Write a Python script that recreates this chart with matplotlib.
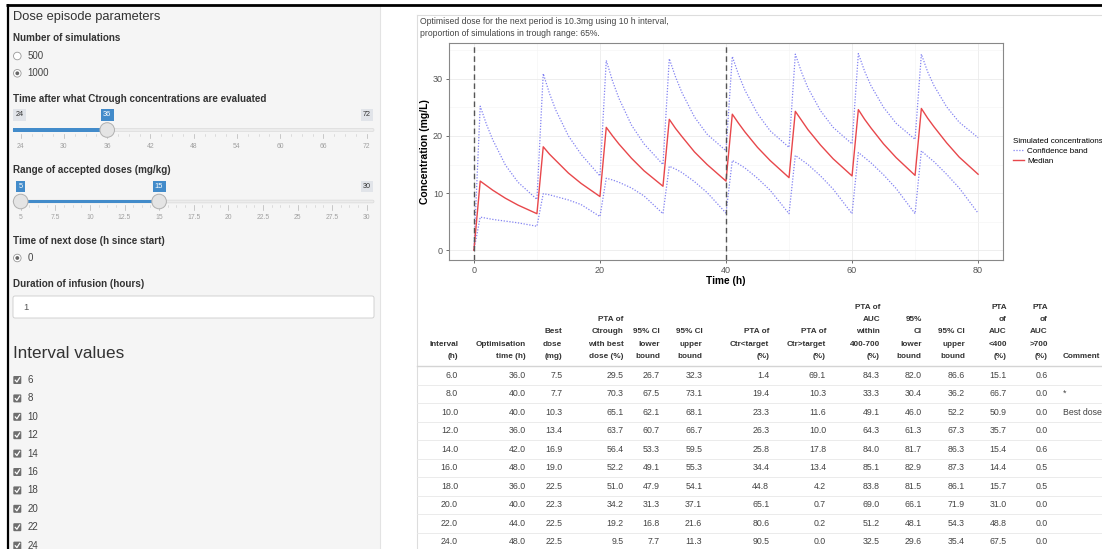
import matplotlib.pyplot as plt
from matplotlib.patches import Rectangle, FancyBboxPatch, Circle

plt.rcParams['font.family'] = ['Liberation Sans', 'DejaVu Sans']

# ---- simulated concentrations ----
time_h = [0,
          1, 2, 3, 5, 7, 10,
          11, 12, 13, 15, 17, 20,
          21, 22, 23, 25, 27, 30,
          31, 32, 33, 35, 37, 40,
          41, 42, 43, 45, 47, 50,
          51, 52, 53, 55, 57, 60,
          61, 62, 63, 65, 67, 70,
          71, 72, 73, 75, 77, 80]
median_conc = [0,
               12.1, 11.3, 10.5, 9.1, 7.9, 6.4,
               18.1, 16.8, 15.7, 13.5, 11.7, 9.4,
               21.5, 20.0, 18.6, 16.1, 13.9, 11.2,
               22.9, 21.3, 19.9, 17.2, 15.0, 12.1,
               23.8, 22.2, 20.7, 18.0, 15.7, 12.7,
               24.3, 22.7, 21.1, 18.4, 16.0, 13.0,
               24.6, 22.9, 21.4, 18.6, 16.2, 13.1,
               24.8, 23.1, 21.6, 18.8, 16.3, 13.3]
upper_conc = [0,
              25.2, 22.0, 19.3, 14.9, 11.9, 8.9,
              30.9, 27.4, 24.5, 20.0, 16.8, 13.0,
              33.2, 29.6, 26.6, 21.9, 18.6, 15.0,
              33.5, 30.3, 27.6, 23.3, 20.3, 17.4,
              33.9, 30.7, 28.0, 23.9, 20.9, 18.0,
              34.3, 31.1, 28.4, 24.4, 21.5, 18.6,
              34.4, 31.3, 28.8, 25.0, 22.2, 19.4,
              34.3, 31.2, 28.8, 25.1, 22.4, 19.7]
lower_conc = [0,
              5.8, 5.6, 5.4, 5.1, 4.8, 4.2,
              9.9, 9.7, 9.4, 8.8, 8.0, 5.9,
              12.6, 12.3, 11.9, 10.9, 9.5, 6.4,
              14.7, 14.2, 13.6, 12.0, 10.1, 6.5,
              15.7, 15.1, 14.4, 12.6, 10.5, 6.4,
              16.6, 15.8, 15.0, 13.0, 10.7, 6.4,
              17.1, 16.2, 15.3, 13.2, 10.8, 6.4,
              17.4, 16.4, 15.5, 13.3, 10.9, 6.5]
dose_times = [0, 40]

# ---- sidebar inputs ----
sim_choices = ['500', '1000']
sim_selected = '1000'
ctrough_ticks = [24, 30, 36, 42, 48, 54, 60, 66, 72]
ctrough_value = 36
dose_ticks = [5, 7.5, 10, 12.5, 15, 17.5, 20, 22.5, 25, 27.5, 30]
dose_range = [5, 15]
next_dose_choices = ['0']
infusion_hours = '1'
interval_choices = ['6', '8', '10', '12', '14', '16', '18', '20', '22', '24']

# ---- results table ----
headers = [['Interval', '(h)'],
           ['Optimisation', 'time (h)'],
           ['Best', 'dose', '(mg)'],
           ['PTA of', 'Ctrough', 'with best', 'dose (%)'],
           ['95% CI', 'lower', 'bound'],
           ['95% CI', 'upper', 'bound'],
           ['PTA of', 'Ctr<target', '(%)'],
           ['PTA of', 'Ctr>target', '(%)'],
           ['PTA of', 'AUC', 'within', '400-700', '(%)'],
           ['95%', 'CI', 'lower', 'bound'],
           ['95% CI', 'upper', 'bound'],
           ['PTA', 'of', 'AUC', '<400', '(%)'],
           ['PTA', 'of', 'AUC', '>700', '(%)']]
interval = [6.0, 8.0, 10.0, 12.0, 14.0, 16.0, 18.0, 20.0, 22.0, 24.0]
opt_time = [36.0, 40.0, 40.0, 36.0, 42.0, 48.0, 36.0, 40.0, 44.0, 48.0]
best_dose = [7.5, 7.7, 10.3, 13.4, 16.9, 19.0, 22.5, 22.3, 22.5, 22.5]
pta_ctrough = [29.5, 70.3, 65.1, 63.7, 56.4, 52.2, 51.0, 34.2, 19.2, 9.5]
ctr_ci_low = [26.7, 67.5, 62.1, 60.7, 53.3, 49.1, 47.9, 31.3, 16.8, 7.7]
ctr_ci_up = [32.3, 73.1, 68.1, 66.7, 59.5, 55.3, 54.1, 37.1, 21.6, 11.3]
pta_below = [1.4, 19.4, 23.3, 26.3, 25.8, 34.4, 44.8, 65.1, 80.6, 90.5]
pta_above = [69.1, 10.3, 11.6, 10.0, 17.8, 13.4, 4.2, 0.7, 0.2, 0.0]
pta_auc = [84.3, 33.3, 49.1, 64.3, 84.0, 85.1, 83.8, 69.0, 51.2, 32.5]
auc_ci_low = [82.0, 30.4, 46.0, 61.3, 81.7, 82.9, 81.5, 66.1, 48.1, 29.6]
auc_ci_up = [86.6, 36.2, 52.2, 67.3, 86.3, 87.3, 86.1, 71.9, 54.3, 35.4]
auc_below = [15.1, 66.7, 50.9, 35.7, 15.4, 14.4, 15.7, 31.0, 48.8, 67.5]
auc_above = [0.6, 0.0, 0.0, 0.0, 0.6, 0.5, 0.5, 0.0, 0.0, 0.0]
comments = ['', '*', 'Best dose', '', '', '', '', '', '', '']

W, H = 1102, 549
BLUE = '#428bca'
TXT = '#333333'

fig = plt.figure(figsize=(W / 100, H / 100), dpi=100)
bg = fig.add_axes([0, 0, 1, 1])
bg.set_xlim(0, W)
bg.set_ylim(H, 0)
bg.axis('off')

# frame + sidebar well
bg.add_patch(Rectangle((8, 6), 372, H, fc='#f5f5f5', ec='#e3e3e3', lw=0.8))
bg.plot([6, W], [4.8, 4.8], color='black', lw=2.0, solid_capstyle='butt')
bg.plot([7.5, 7.5], [4, H], color='black', lw=1.6, solid_capstyle='butt')
bg.plot([416.5, W], [15, 15], color='#dddddd', lw=0.8)
bg.plot([416.5, 416.5], [15, H], color='#dddddd', lw=0.8)

bg.text(13, 17, 'Dose episode parameters', fontsize=9.3, color=TXT, va='center')


def label(y, s):
    bg.text(13, y, s, fontsize=7.1, fontweight='bold', color=TXT, va='center')


def radio(y, s, on):
    bg.add_patch(Circle((17.3, y), 3.8, fc='white', ec='#999999', lw=0.6))
    if on:
        bg.add_patch(Circle((17.3, y), 1.9, fc='#666666', ec='none'))
    bg.text(27.5, y, s, fontsize=7.0, color='#444444', va='center')


def slider(y_track, ticks, values):
    lo, hi = ticks[0], ticks[-1]

    def sx(v):
        return 20.7 + (v - lo) / (hi - lo) * 346.0

    bg.add_patch(FancyBboxPatch((13, y_track - 1.4), 361, 2.8,
                                boxstyle='round,pad=0,rounding_size=1.4',
                                fc='#ececec', ec='#dadada', lw=0.5))
    x0 = 13 if len(values) == 1 else sx(values[0])
    bg.add_patch(Rectangle((x0, y_track - 1.6), sx(values[-1]) - x0, 3.2,
                           fc=BLUE, ec='none'))
    for i, t in enumerate(ticks):
        x = sx(t)
        bg.plot([x, x], [y_track + 3.5, y_track + 8], color='#b5b5b5', lw=0.5)
        bg.text(x, y_track + 16, f'{t:g}', fontsize=4.9, color='#a0a0a0',
                ha='center', va='center')
        if i < len(ticks) - 1:
            step = (sx(ticks[i + 1]) - x) / 4
            for k in range(1, 4):
                bg.plot([x + k * step] * 2, [y_track + 3.5, y_track + 5.5],
                        color='#c8c8c8', lw=0.4)
    ylab = y_track - 15
    box_gray = dict(boxstyle='square,pad=0.3', fc='#e1e4e9', ec='none')
    box_blue = dict(boxstyle='square,pad=0.3', fc=BLUE, ec='none')
    if len(values) == 1:
        bg.text(sx(lo) - 1, ylab, f'{lo:g}', fontsize=5.2, color=TXT, ha='center',
                va='center', bbox=box_gray)
    bg.text(sx(hi), ylab, f'{hi:g}', fontsize=5.2, color=TXT, ha='center',
            va='center', bbox=box_gray)
    for v in values:
        bg.text(sx(v), ylab, f'{v:g}', fontsize=5.4, color='white', ha='center',
                va='center', bbox=box_blue)
        bg.add_patch(Circle((sx(v), y_track), 7.3, fc='#e4e4e4', ec='#b0b0b0',
                            lw=0.7, zorder=5))


label(38, 'Number of simulations')
for i, s in enumerate(sim_choices):
    radio(56 + i * 17.3, s, s == sim_selected)

label(99, 'Time after what Ctrough concentrations are evaluated')
slider(130, ctrough_ticks, [ctrough_value])

label(170, 'Range of accepted doses (mg/kg)')
slider(201.5, dose_ticks, dose_range)

label(241, 'Time of next dose (h since start)')
radio(258, next_dose_choices[0], True)

label(284, 'Duration of infusion (hours)')
bg.add_patch(FancyBboxPatch((13, 296), 361, 22, boxstyle='round,pad=0,rounding_size=2',
                            fc='white', ec='#cccccc', lw=0.6))
bg.text(23.5, 307.5, infusion_hours, fontsize=6.8, color='#555555', va='center')

bg.text(13, 354, 'Interval values', fontsize=12.3, color=TXT, va='center')
for i, s in enumerate(interval_choices):
    y = 380 + i * 18.4
    bg.add_patch(FancyBboxPatch((13.3, y - 4), 8, 8, boxstyle='round,pad=0,rounding_size=1',
                                fc='#6e6e6e', ec='none'))
    bg.plot([15.3, 16.9, 19.6], [y + 0.2, y + 2.0, y - 2.2], color='white', lw=0.9)
    bg.text(27.5, y, s, fontsize=7.0, color='#444444', va='center')

# ---- chart ----
bg.text(420, 21, 'Optimised dose for the next period is 10.3mg using 10 h interval,',
        fontsize=6.2, color='#444444', va='center')
bg.text(420, 33.5, 'proportion of simulations in trough range: 65%.',
        fontsize=6.2, color='#444444', va='center')

ax = fig.add_axes([448.7 / W, 1 - 260 / H, (1003.3 - 448.7) / W, (260 - 43.3) / H])
band_col = '#8383f2'
med_col = '#e8474b'
ax.plot(time_h, upper_conc, color=band_col, lw=0.9, ls=(0, (1, 1.3)), label='Confidence band')
ax.plot(time_h, lower_conc, color=band_col, lw=0.9, ls=(0, (1, 1.3)))
ax.plot(time_h, median_conc, color=med_col, lw=1.0, label='Median')
for t in dose_times:
    ax.axvline(t, color='#555555', lw=1.0, ls=(0, (4, 2.5)))
ax.set_xlim(-4, 84)
ax.set_ylim(-1.7, 36.2)
ax.set_xticks([0, 20, 40, 60, 80])
ax.set_yticks([0, 10, 20, 30])
ax.set_xticks([10, 30, 50, 70], minor=True)
ax.set_yticks([5, 15, 25, 35], minor=True)
ax.grid(which='major', color='#ebebeb', lw=0.6)
ax.grid(which='minor', color='#f4f4f4', lw=0.45)
ax.set_axisbelow(True)
ax.tick_params(which='major', length=2.2, width=0.6, color='#555555', pad=2,
               labelsize=6.5, labelcolor='#555555')
ax.tick_params(which='minor', length=0)
for sp in ax.spines.values():
    sp.set_color('#888888')
    sp.set_linewidth(0.8)
ax.set_xlabel('Time (h)', fontsize=7.3, fontweight='bold', labelpad=1)
ax.set_ylabel('Concentration (mg/L)', fontsize=7.5, fontweight='bold', labelpad=2)
leg = ax.legend(loc='center left', bbox_to_anchor=(1.005, 0.5), frameon=False,
                title='Simulated concentrations', fontsize=5.8, title_fontsize=5.8,
                handlelength=1.3, handletextpad=0.4, labelspacing=0.25,
                alignment='left')

# ---- results table ----
columns = [interval, opt_time, best_dose, pta_ctrough, ctr_ci_low, ctr_ci_up,
           pta_below, pta_above, pta_auc, auc_ci_low, auc_ci_up, auc_below, auc_above]
col_right = [458, 526, 562.3, 623.3, 660, 702.3, 769.3, 826, 880, 921.7, 965,
             1006.7, 1047.7]
comment_x = 1062.7
head_bottom = 356.5
line_h = 12.35
row0, row_h = 375.2, 18.5

for hdr, x in zip(headers, col_right):
    for j, s in enumerate(reversed(hdr)):
        bg.text(x, head_bottom - j * line_h, s, fontsize=5.9, fontweight='bold',
                color=TXT, ha='right', va='center')
bg.text(comment_x, head_bottom, 'Comment', fontsize=5.9, fontweight='bold',
        color=TXT, ha='left', va='center')

bg.plot([417, W], [366, 366], color='#d4d4d4', lw=1.0)
for i in range(1, len(interval)):
    y = 366 + i * row_h
    bg.plot([417, W], [y, y], color='#e8e8e8', lw=0.6)

for i in range(len(interval)):
    y = row0 + i * row_h
    for col, x in zip(columns, col_right):
        bg.text(x, y, f'{col[i]:.1f}', fontsize=6.3, color='#444444',
                ha='right', va='center')
    if comments[i]:
        bg.text(comment_x, y, comments[i], fontsize=6.3, color='#444444',
                ha='left', va='center')

fig.savefig('out.png', dpi=100)
